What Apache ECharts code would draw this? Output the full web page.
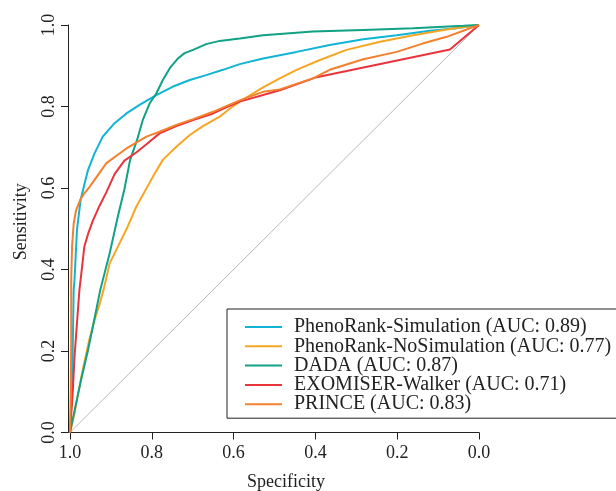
<!DOCTYPE html>
<html>
<head>
<meta charset="utf-8">
<script src="https://cdn.jsdelivr.net/npm/echarts@6/dist/echarts.min.js"></script>
<style>
html,body{margin:0;padding:0;background:#fff;}
#chart{width:616px;height:491px;}
</style>
</head>
<body>
<div id="chart"></div>
<script>
// Tick values
var xTicks = [1.0, 0.8, 0.6, 0.4, 0.2, 0.0];
var yTicks = [0.0, 0.2, 0.4, 0.6, 0.8, 1.0];

// Series names
var seriesNames = [
  'PhenoRank-Simulation (AUC: 0.89)',
  'PhenoRank-NoSimulation (AUC: 0.77)',
  'DADA (AUC: 0.87)',
  'EXOMISER-Walker (AUC: 0.71)',
  'PRINCE (AUC: 0.83)'
];

// PhenoRank-Simulation
var simSpec = [1, 0.995, 0.993, 0.991, 0.989, 0.983, 0.974, 0.962, 0.956, 0.940, 0.920, 0.891, 0.862, 0.830, 0.789, 0.748, 0.707, 0.667, 0.626, 0.585, 0.528, 0.446, 0.365, 0.283, 0.201, 0.120, 0.055, 0];
var simSens = [0, 0.104, 0.227, 0.350, 0.374, 0.497, 0.571, 0.620, 0.644, 0.685, 0.726, 0.759, 0.783, 0.804, 0.828, 0.849, 0.865, 0.877, 0.890, 0.904, 0.918, 0.934, 0.951, 0.965, 0.975, 0.986, 0.992, 1];

// PhenoRank-NoSimulation
var noSimSpec = [1, 0.989, 0.977, 0.969, 0.953, 0.940, 0.927, 0.918, 0.903, 0.879, 0.859, 0.838, 0.818, 0.806, 0.795, 0.773, 0.740, 0.707, 0.675, 0.634, 0.609, 0.585, 0.528, 0.487, 0.446, 0.389, 0.324, 0.242, 0.161, 0.079, 0];
var noSimSens = [0, 0.047, 0.112, 0.153, 0.227, 0.276, 0.317, 0.350, 0.415, 0.464, 0.505, 0.554, 0.590, 0.612, 0.632, 0.669, 0.701, 0.730, 0.752, 0.775, 0.795, 0.812, 0.847, 0.869, 0.890, 0.914, 0.939, 0.959, 0.975, 0.989, 1];

// DADA
var dadaSpec = [1, 0.985, 0.973, 0.956, 0.944, 0.926, 0.903, 0.883, 0.867, 0.853, 0.836, 0.822, 0.805, 0.789, 0.773, 0.756, 0.736, 0.720, 0.699, 0.667, 0.634, 0.585, 0.528, 0.406, 0.283, 0.161, 0.038, 0];
var dadaSens = [0, 0.072, 0.129, 0.202, 0.260, 0.350, 0.440, 0.530, 0.597, 0.669, 0.718, 0.767, 0.808, 0.832, 0.865, 0.894, 0.918, 0.931, 0.939, 0.953, 0.961, 0.967, 0.975, 0.984, 0.988, 0.992, 0.998, 1];

// EXOMISER-Walker
var exoSpec = [1, 0.993, 0.989, 0.983, 0.977, 0.973, 0.965, 0.955, 0.944, 0.928, 0.911, 0.891, 0.867, 0.838, 0.810, 0.781, 0.740, 0.699, 0.650, 0.618, 0.585, 0.487, 0.397, 0.071, 0];
var exoSens = [0, 0.104, 0.186, 0.268, 0.350, 0.384, 0.456, 0.490, 0.520, 0.556, 0.590, 0.634, 0.667, 0.687, 0.710, 0.734, 0.752, 0.767, 0.783, 0.798, 0.812, 0.840, 0.872, 0.940, 1];

// PRINCE
var princeSpec = [1, 0.998, 0.997, 0.997, 0.995, 0.991, 0.985, 0.975, 0.965, 0.952, 0.940, 0.911, 0.862, 0.813, 0.781, 0.740, 0.699, 0.650, 0.618, 0.585, 0.528, 0.487, 0.406, 0.365, 0.283, 0.201, 0.136, 0.079, 0.022, 0];
var princeSens = [0, 0.104, 0.227, 0.374, 0.456, 0.513, 0.546, 0.571, 0.587, 0.603, 0.620, 0.661, 0.697, 0.726, 0.738, 0.755, 0.769, 0.787, 0.801, 0.815, 0.836, 0.842, 0.869, 0.890, 0.916, 0.934, 0.955, 0.971, 0.992, 1];

// Chance diagonal
var diagSpec = [1, 0];
var diagSens = [0, 1];

var colors = ['#10B4D4', '#F6A623', '#11A185', '#E8343B', '#F3802C'];

function pairs(xs, ys) {
  return xs.map(function (x, i) { return [x, ys[i]]; });
}

var specs = [simSpec, noSimSpec, dadaSpec, exoSpec, princeSpec];
var senss = [simSens, noSimSens, dadaSens, exoSens, princeSens];

var FONT = '"Liberation Serif", "DejaVu Serif", serif';
var TXT = '#222';

var series = [{
  name: 'diag',
  type: 'line',
  data: pairs(diagSpec, diagSens),
  symbol: 'none',
  silent: true,
  lineStyle: { color: '#B8B8B8', width: 1 },
  z: 1
}];
for (var i = 0; i < seriesNames.length; i++) {
  series.push({
    name: seriesNames[i],
    type: 'line',
    data: pairs(specs[i], senss[i]),
    symbol: 'none',
    color: colors[i],
    lineStyle: { color: colors[i], width: 2 },
    z: 2 + i
  });
}

var chart = echarts.init(document.getElementById('chart'), null, { renderer: 'canvas' });
chart.setOption({
  animation: false,
  backgroundColor: '#fff',
  grid: { left: 70, right: 137, top: 25, bottom: 58.5, containLabel: false, outerBoundsMode: 'none' },
  xAxis: {
    type: 'value',
    min: 0, max: 1, interval: 0.2,
    inverse: true,
    name: 'Specificity',
    nameLocation: 'middle',
    nameGap: 41,
    nameTextStyle: { fontFamily: FONT, fontSize: 18, color: TXT, padding: [0, 0, 0, 23] },
    axisLine: { show: true, onZero: false, lineStyle: { color: TXT, width: 1 } },
    axisTick: { show: true, length: 7, lineStyle: { color: TXT } },
    axisLabel: {
      fontFamily: FONT, fontSize: 18, color: TXT, margin: 12,
      formatter: function (v) { return v.toFixed(1); }
    },
    splitLine: { show: false }
  },
  yAxis: {
    type: 'value',
    min: 0, max: 1, interval: 0.2,
    offset: 2,
    name: 'Sensitivity',
    nameLocation: 'middle',
    nameGap: 38,
    nameTextStyle: { fontFamily: FONT, fontSize: 18, color: TXT, padding: [0, 0, 0, 14] },
    axisLine: { show: true, onZero: false, lineStyle: { color: TXT, width: 1 } },
    axisTick: { show: true, length: 7, lineStyle: { color: TXT } },
    axisLabel: {
      fontFamily: FONT, fontSize: 18, color: TXT, margin: 10, rotate: 90,
      formatter: function (v) { return v.toFixed(1); }
    },
    splitLine: { show: false }
  },
  legend: {
    data: seriesNames,
    orient: 'vertical',
    left: 227,
    top: 309,
    padding: [8, 60, 4, 18],
    itemGap: -0.7,
    itemWidth: 37,
    itemHeight: 2,
    icon: 'rect',
    borderColor: TXT,
    borderWidth: 1,
    borderRadius: 0,
    textStyle: { fontFamily: FONT, fontSize: 20, color: TXT, lineHeight: 19.3, padding: [0, 0, 0, 7] }
  },
  series: series
});
</script>
</body>
</html>
